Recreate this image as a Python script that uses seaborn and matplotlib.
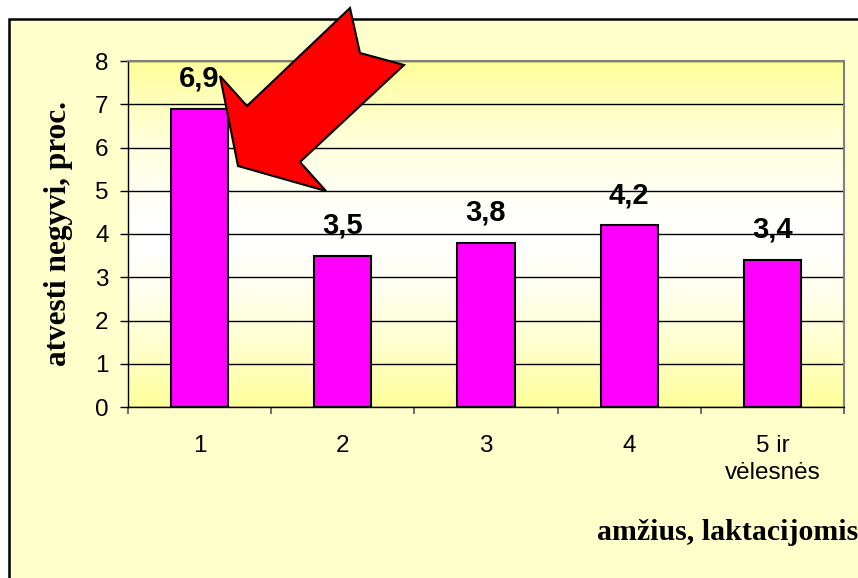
import numpy as np
import pandas as pd
import matplotlib
matplotlib.use("Agg")
import matplotlib.pyplot as plt
import seaborn as sns
from matplotlib.patches import Rectangle, Polygon

# Data
categories = ["1", "2", "3", "4", "5 ir\nvėlesnės"]
values = [6.9, 3.5, 3.8, 4.2, 3.4]
y_label = "atvesti negyvi, proc."
x_label = "amžius, laktacijomis"

plt.rcParams['font.family'] = ['Liberation Sans', 'DejaVu Sans']

df = pd.DataFrame({'cat': categories, 'val': values})

W, H = 858, 578
fig = plt.figure(figsize=(W / 100, H / 100), dpi=100)
fig.patch.set_facecolor('white')

# light yellow chart area with black frame
fig.add_artist(Rectangle((9 / W, -0.05), 1.1, (H - 19) / H + 0.05, transform=fig.transFigure,
                         facecolor='#FFFFCC', edgecolor='black', linewidth=1.8, zorder=-1))

ax = fig.add_axes([128 / W, (H - 407) / H, (844 - 128) / W, (407 - 61) / H])
ax.patch.set_visible(False)

# gradient background of plot area (yellow edges, white middle)
t = np.linspace(0, 1, 256)
k = np.abs(t - 0.5) * 2
k = k ** 1.6
yellow = np.array([1.0, 1.0, 0.6])
white = np.array([1.0, 1.0, 1.0])
grad = white[None, :] * (1 - k[:, None]) + yellow[None, :] * k[:, None]
grad = grad[:, None, :]
ax.imshow(grad, extent=[-0.5, 4.5, 0, 8], origin='lower', aspect='auto', zorder=0)

sns.barplot(data=df, x='cat', y='val', color='#FF00FF', saturation=1, width=0.4,
            edgecolor='black', linewidth=1.5, ax=ax, zorder=2)

ax.set_xlim(-0.5, 4.5)
ax.set_ylim(0, 8)
ax.set_yticks(range(0, 9))
ax.yaxis.grid(True, color='black', linewidth=1)
ax.xaxis.grid(False)
ax.set_axisbelow(True)

for s in ['top', 'right']:
    ax.spines[s].set_color('#808080')
    ax.spines[s].set_linewidth(1.5)
for s in ['left', 'bottom']:
    ax.spines[s].set_color('black')
    ax.spines[s].set_linewidth(1)

ax.tick_params(axis='y', length=6, width=1, pad=8, labelsize=17.5, color='black')
ax.set_xticks(range(len(categories)))
ax.set_xticklabels(categories, linespacing=1.3)
ax.tick_params(axis='x', which='major', length=0, pad=20, labelsize=17.5)
ax.set_xticks(np.arange(-0.5, len(categories)), minor=True)
ax.tick_params(axis='x', which='minor', length=5, width=1.2, color='#555555')

for i, v in enumerate(values):
    ax.annotate(f"{v:.1f}".replace('.', ','), (i, v), xytext=(0, 22), textcoords='offset pixels',
                ha='center', va='baseline', fontsize=21, fontweight='bold')

ax.set_ylabel(y_label, fontsize=22.5, fontweight='bold', family='Liberation Serif',
              va='center', ha='center')
ax.yaxis.set_label_coords((59 - 128) / 716, 0.5)
ax.set_xlabel(x_label, fontsize=21.5, fontweight='bold', family='Liberation Serif',
              ha='right', va='center')
ax.xaxis.set_label_coords((858 - 128) / 716, (407 - 533) / 346)

# red block arrow pointing at first bar
arrow_px = [(238, 166), (220, 76), (247, 106), (350, 8), (360, 53), (404, 65), (300, 162), (326, 191)]
arrow = Polygon([(x / W, 1 - y / H) for x, y in arrow_px], closed=True, transform=fig.transFigure,
                facecolor='#FF0000', edgecolor='black', linewidth=1.5, zorder=10)
fig.add_artist(arrow)

plt.savefig("out.png", dpi=100)
